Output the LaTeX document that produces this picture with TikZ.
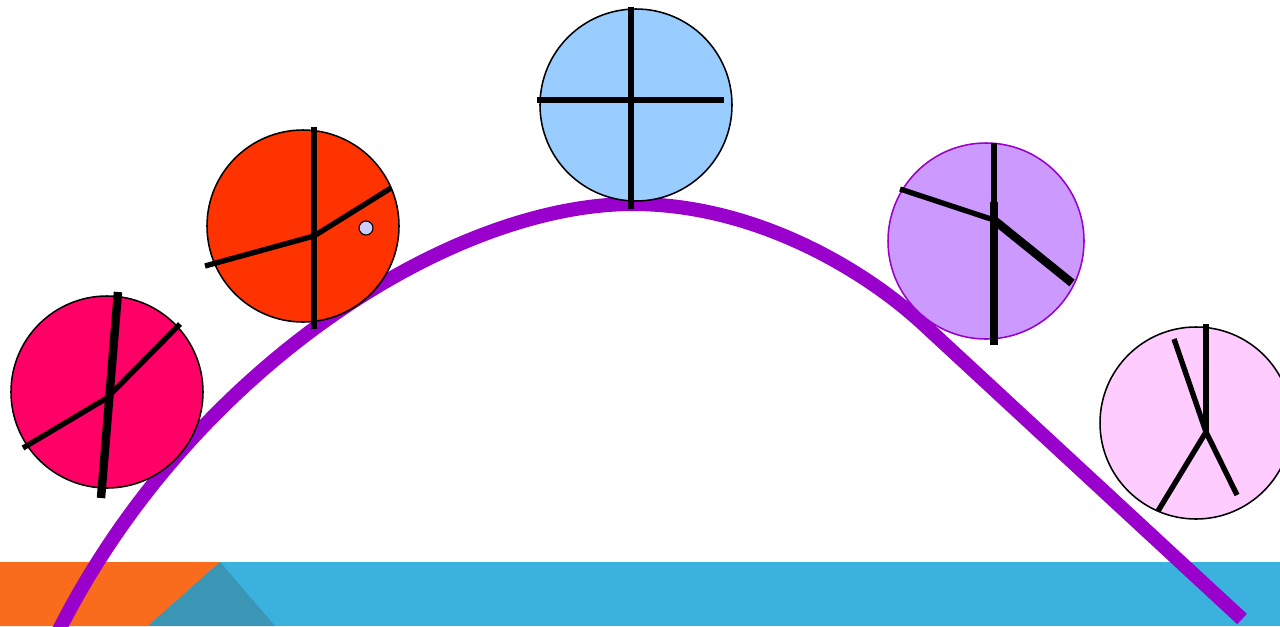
\documentclass[tikz,border=0pt]{standalone}
\definecolor{bandblue}{HTML}{3BB1DE}
\definecolor{bandorange}{HTML}{F96B1D}
\definecolor{bandteal}{HTML}{3A96B4}
\definecolor{arcpurple}{HTML}{9900CC}
\definecolor{ballpink}{HTML}{FF0066}
\definecolor{ballred}{HTML}{FF3300}
\definecolor{ballblue}{HTML}{99CCFF}
\definecolor{balllilac}{HTML}{CC99FF}
\definecolor{ballrose}{HTML}{FFCCFF}
\definecolor{dotlav}{HTML}{CCCCFF}
\begin{document}
\begin{tikzpicture}[x=0.025cm, y=-0.025cm,
    ball/.style={draw=black, line width=1.1pt},
    limb/.style={line width=3.8pt},
    biglimb/.style={line width=6pt}]
    \useasboundingbox (0,0) rectangle (1280,626);

    % Dải màu dưới cùng
    \fill[bandblue] (0,562) rectangle (1280,626);
    \fill[bandorange] (0,562) -- (220,562) -- (148,626) -- (0,626) -- cycle;
    \fill[bandteal] (220,562) -- (275,626) -- (148,626) -- cycle;

    % Quỹ đạo
    \coordinate (start) at (58,632);
    \coordinate (peak) at (633,204);
    \coordinate (bend) at (922,323);
    \coordinate (land) at (1242,619);
    \draw[arcpurple, line width=10pt]
        (start) .. controls (190,370) and (450,204) .. (peak)
        .. controls (753,204) and (862,268) .. (bend) -- (land);

    % Quả bóng 1
    \coordinate (c1) at (107,392);
    \fill[ballpink, ball] (c1) circle (96);
    \draw[limb] (23,448) -- (107,398) -- (180,324);
    \draw[biglimb] (118,292) -- (101,498);

    % Quả bóng 2
    \coordinate (c2) at (303,226);
    \fill[ballred, ball] (c2) circle (96);
    \draw[limb] (314,127) -- (314,329);
    \draw[limb] (205,266) -- (314,236) -- (391,188);
    \filldraw[fill=dotlav, draw=black, line width=0.8pt] (366,228) circle (7);

    % Quả bóng 3
    \coordinate (c3) at (636,105);
    \fill[ballblue, ball] (c3) circle (96);
    \draw[limb] (631,7) -- (631,209);
    \draw[limb] (537,100) -- (724,100);

    % Quả bóng 4
    \coordinate (c4) at (986,241);
    \filldraw[fill=balllilac, draw=arcpurple, line width=1.1pt] (c4) circle (98);
    \draw[limb] (994,143) -- (994,210);
    \draw[biglimb] (994,202) -- (994,345);
    \draw[limb] (900,189) -- (994,220);
    \draw[biglimb] (994,220) -- (1072,283);

    % Quả bóng 5
    \coordinate (c5) at (1196,423);
    \fill[ballrose, ball] (c5) circle (96);
    \draw[limb] (1206,324) -- (1206,432);
    \draw[limb] (1174,339) -- (1206,432) -- (1158,511);
    \draw[limb] (1206,432) -- (1237,495);
\end{tikzpicture}
\end{document}
